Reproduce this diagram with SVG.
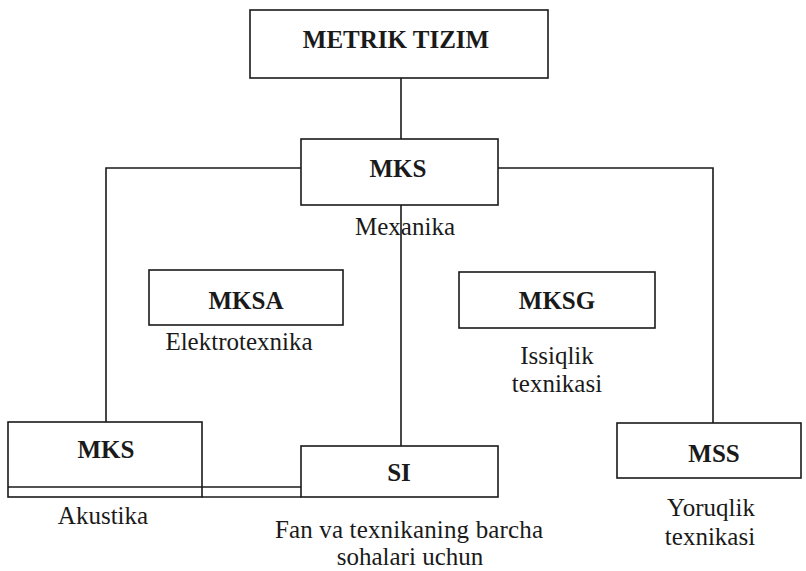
<svg xmlns="http://www.w3.org/2000/svg" width="806" height="571" viewBox="0 0 806 571">
  <style>
    .box { fill: #fff; stroke: #1a1a1a; stroke-width: 1.6; }
    .wire { fill: none; stroke: #1a1a1a; stroke-width: 1.6; }
    .title { font-weight: bold; font-size: 25px; fill: #1a1a1a; text-anchor: middle; }
    .note { font-size: 25px; fill: #1a1a1a; text-anchor: middle; }
  </style>
  <rect width="806" height="571" fill="#fff"/>

  <!-- connectors -->
  <g id="connectors">
    <path class="wire" d="M401 78 V139"/>
    <path class="wire" d="M301 168 H106 V422"/>
    <path class="wire" d="M498 168 H713 V423"/>
    <path class="wire" d="M401 205 V446"/>
    <path class="wire" d="M202 487 H301"/>
    <path class="wire" d="M202 497 H301"/>
  </g>

  <g font-family="'Liberation Serif', 'DejaVu Serif', serif">
    <g id="metrik">
      <rect class="box" x="250" y="10" width="298" height="68"/>
      <text class="title" x="396" y="48">METRIK TIZIM</text>
    </g>

    <g id="mks-top">
      <rect class="box" x="301" y="139" width="197" height="66"/>
      <text class="title" x="398" y="177">MKS</text>
      <text class="note" x="405" y="235">Mexanika</text>
    </g>

    <g id="mksa">
      <rect class="box" x="149" y="270" width="194" height="55"/>
      <text class="title" x="246" y="309">MKSA</text>
      <text class="note" x="239" y="350">Elektrotexnika</text>
    </g>

    <g id="mksg">
      <rect class="box" x="459" y="272" width="196" height="56"/>
      <text class="title" x="557" y="309">MKSG</text>
      <text class="note" x="557" y="364">Issiqlik</text>
      <text class="note" x="557" y="392">texnikasi</text>
    </g>

    <g id="mks-bottom">
      <rect class="box" x="8" y="422" width="194" height="75"/>
      <path class="wire" d="M8 487 H202"/>
      <text class="title" x="106" y="458">MKS</text>
      <text class="note" x="103" y="524">Akustika</text>
    </g>

    <g id="si">
      <rect class="box" x="301" y="446" width="197" height="51"/>
      <text class="title" x="399" y="481">SI</text>
      <text class="note" x="409" y="538" font-size="24" textLength="268" lengthAdjust="spacing">Fan va texnikaning barcha</text>
      <text class="note" x="410" y="565" font-size="24">sohalari uchun</text>
    </g>

    <g id="mss">
      <rect class="box" x="617" y="423" width="184" height="55"/>
      <text class="title" x="714" y="462">MSS</text>
      <text class="note" x="711" y="516">Yoruqlik</text>
      <text class="note" x="710" y="545">texnikasi</text>
    </g>
  </g>
</svg>
